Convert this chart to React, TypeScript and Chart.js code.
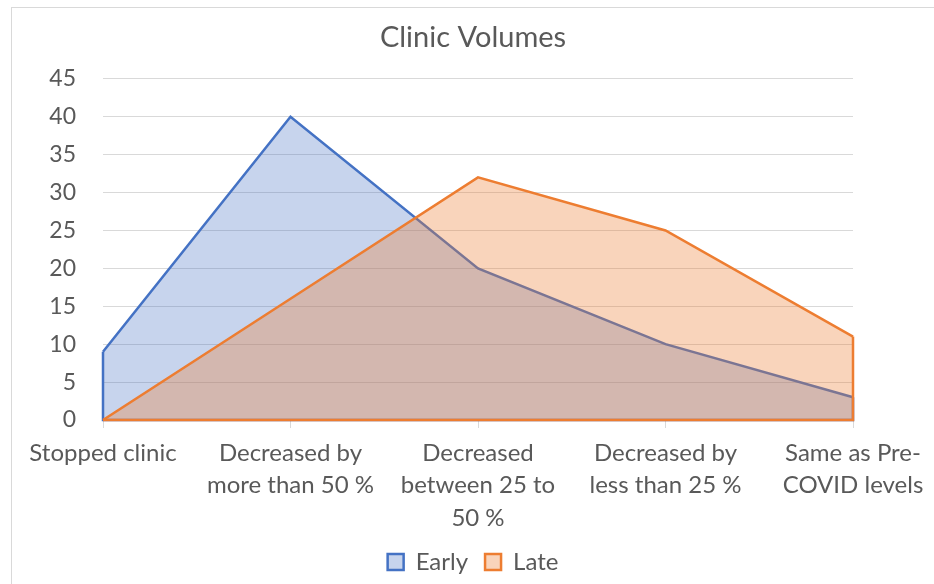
import { useEffect, useRef } from "react";
import { Chart, registerables } from "chart.js";

Chart.register(...registerables);

const categories: (string | string[])[] = [
  "Stopped clinic",
  ["Decreased by", "more than 50 %"],
  ["Decreased", "between 25 to", "50 %"],
  ["Decreased by", "less than 25 %"],
  ["Same as Pre-", "COVID levels"],
];
const earlyValues = [9, 40, 20, 10, 3];
const lateValues = [0, 16, 32, 25, 11];
const yMin = 0;
const yMax = 45;
const yStep = 5;

const FONT = "Lato, 'Open Sans', sans-serif";
const TEXT = "#595959";
const GRID = "#d9d9d9";

const framePlugin = {
  id: "frame",
  beforeDraw(chart: any) {
    const ctx = chart.ctx;
    ctx.save();
    ctx.fillStyle = "#ffffff";
    ctx.fillRect(0, 0, chart.width, chart.height);
    ctx.strokeStyle = GRID;
    ctx.lineWidth = 1;
    ctx.strokeRect(11.5, 7.5, chart.width + 20, chart.height + 20);
    ctx.restore();
  },
};

const areaEdges = {
  id: "areaEdges",
  afterDatasetDraw(chart: any, args: any) {
    const meta = args.meta;
    const ds: any = chart.data.datasets[args.index];
    const pts = meta.data;
    if (!pts || !pts.length) return;
    const y0 = chart.scales.y.getPixelForValue(0);
    const ctx = chart.ctx;
    const last = pts[pts.length - 1];
    const first = pts[0];
    ctx.save();
    ctx.strokeStyle = ds.borderColor;
    ctx.lineWidth = ds.borderWidth;
    ctx.lineJoin = "miter";
    ctx.beginPath();
    ctx.moveTo(last.x, last.y);
    ctx.lineTo(last.x, y0);
    ctx.lineTo(first.x, y0);
    ctx.lineTo(first.x, first.y);
    ctx.stroke();
    ctx.restore();
  },
};

export default function App() {
  const ref = useRef<HTMLCanvasElement | null>(null);

  useEffect(() => {
    if (!ref.current) return;
    const chart = new Chart(ref.current, {
      type: "line",
      data: {
        labels: categories as any,
        datasets: [
          {
            label: "Early",
            data: earlyValues,
            borderColor: "#4472C4",
            backgroundColor: "rgba(68,114,196,0.3)",
            borderWidth: 2.5,
            fill: "origin",
            pointRadius: 0,
            tension: 0,
            order: 2,
          },
          {
            label: "Late",
            data: lateValues,
            borderColor: "#ED7D31",
            backgroundColor: "rgba(237,125,49,0.33)",
            borderWidth: 2.5,
            fill: "origin",
            pointRadius: 0,
            tension: 0,
            order: 1,
          },
        ],
      },
      options: {
        responsive: false,
        animation: false,
        devicePixelRatio: 1,
        layout: { padding: { left: 12, right: 0, top: 0, bottom: 0 } },
        plugins: {
          title: {
            display: true,
            text: "Clinic Volumes",
            color: TEXT,
            font: { family: FONT, size: 29, weight: "normal", lineHeight: 1.2 },
            padding: { top: 20, bottom: 24 },
          },
          legend: {
            display: true,
            position: "bottom",
            labels: {
              color: TEXT,
              font: { family: FONT, size: 24 },
              boxWidth: 16,
              boxHeight: 16,
              padding: 17,
              sort: (a: any, b: any) => a.datasetIndex - b.datasetIndex,
            },
          },
          tooltip: { enabled: false },
        },
        scales: {
          x: {
            type: "category",
            offset: false,
            grid: {
              display: true,
              drawOnChartArea: false,
              drawTicks: true,
              tickLength: 8,
              color: GRID,
            },
            border: { display: true, color: GRID },
            ticks: {
              color: TEXT,
              font: { family: FONT, size: 24, lineHeight: 1.35 },
              padding: 9,
              maxRotation: 0,
              minRotation: 0,
              autoSkip: false,
            },
            afterFit: (scale: any) => {
              scale.height = 113;
              scale.paddingRight = 81;
            },
          },
          y: {
            min: yMin,
            max: yMax,
            grid: { color: GRID, drawTicks: false, lineWidth: 1 },
            border: { display: false },
            ticks: {
              stepSize: yStep,
              color: TEXT,
              font: { family: FONT, size: 23 },
              padding: 27,
            },
            afterFit: (scale: any) => {
              scale.width = 91;
            },
          },
        },
      },
      plugins: [framePlugin, areaEdges],
    });
    return () => chart.destroy();
  }, []);

  return (
    <div style={{ position: "absolute", left: 0, top: 0, width: 934, height: 584 }}>
      <canvas ref={ref} width={934} height={584} />
    </div>
  );
}
